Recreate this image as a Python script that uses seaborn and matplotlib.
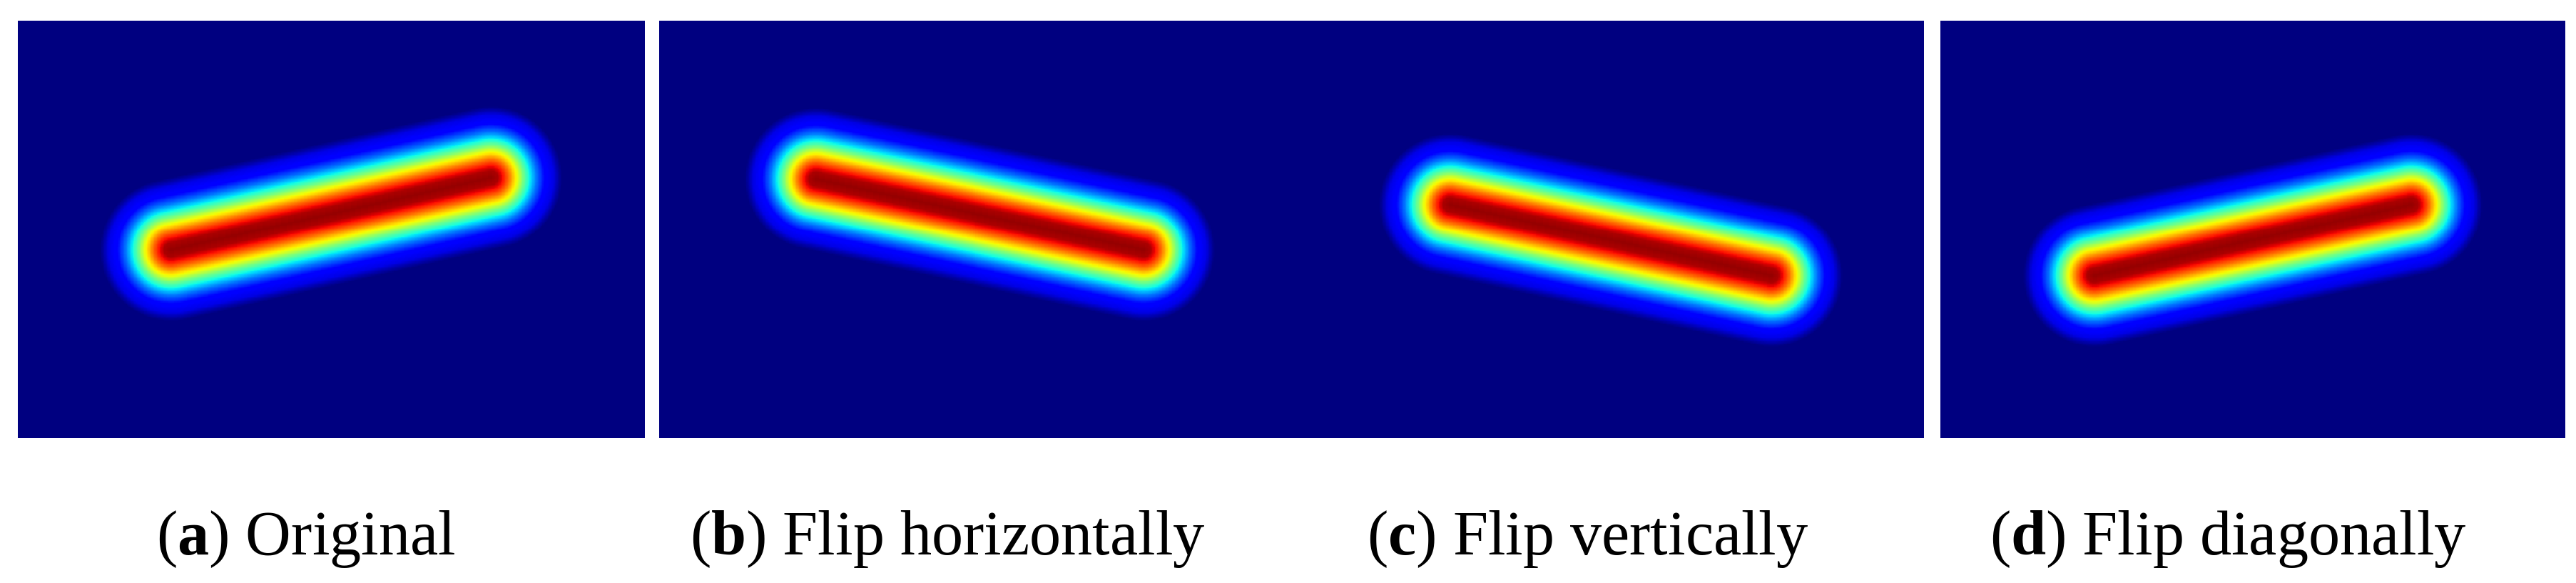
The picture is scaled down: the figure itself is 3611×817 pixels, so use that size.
import numpy as np
import matplotlib
matplotlib.use("Agg")
import matplotlib.pyplot as plt
import seaborn as sns

# Values
captions = [r"($\mathbf{a}$) Original", r"($\mathbf{b}$) Flip horizontally",
            r"($\mathbf{c}$) Flip vertically", r"($\mathbf{d}$) Flip diagonally"]
# panel size in grid cells (one cell = 2 reference pixels)
panel_cols = [439, 444, 443, 438]
panel_rows = 293
# ridge end points per panel, in grid cells (col, row)
start_a = (107, 161); end_a = (331, 110)
start_b = (110, 111); end_b = (340, 161)
start_c = (111, 129); end_c = (336, 179)
start_d = (108, 179); end_d = (330, 129)
segments = [(start_a, end_a), (start_b, end_b), (start_c, end_c), (start_d, end_d)]
profile_distance = [0, 5, 9, 13, 16.5, 19, 22.5, 27, 32, 38, 44, 47, 50]
profile_value = [0.98, 0.96, 0.88, 0.78, 0.68, 0.62, 0.50, 0.37, 0.24, 0.12, 0.09, 0.04, 0.0]

# Layout (reference pixels)
FIG_W, FIG_H = 3612, 817
panel_left = [25.5, 924, 1811, 2720]
panel_right = [904, 1811, 2697, 3596]
panel_top, panel_bottom = 29, 614
caption_center = [429, 1328, 2226, 3123]
caption_baseline = 777


def field(cols, rows, p0, p1):
    yy, xx = np.mgrid[0:rows, 0:cols] + 0.5
    p0, p1 = np.array(p0, float), np.array(p1, float)
    d = p1 - p0
    t = np.clip(((xx - p0[0]) * d[0] + (yy - p0[1]) * d[1]) / (d @ d), 0, 1)
    dist = np.hypot(xx - p0[0] - t * d[0], yy - p0[1] - t * d[1])
    return np.interp(dist, profile_distance, profile_value)


sns.set_theme(style="white")
plt.rcParams["font.family"] = ["Liberation Serif", "DejaVu Serif"]
plt.rcParams["mathtext.fontset"] = "custom"
plt.rcParams["mathtext.rm"] = "Liberation Serif"
plt.rcParams["mathtext.bf"] = "Liberation Serif:bold"

fig = plt.figure(figsize=(FIG_W / 100, FIG_H / 100), dpi=100, facecolor="white")
for i, (cols, seg) in enumerate(zip(panel_cols, segments)):
    ax = fig.add_axes([panel_left[i] / FIG_W, 1 - panel_bottom / FIG_H,
                       (panel_right[i] - panel_left[i]) / FIG_W,
                       (panel_bottom - panel_top) / FIG_H])
    sns.heatmap(field(cols, panel_rows, *seg), ax=ax, cmap="jet", vmin=0, vmax=1,
                cbar=False, xticklabels=False, yticklabels=False, rasterized=True)
    ax.set_xticks([]); ax.set_yticks([])
    fig.text(caption_center[i] / FIG_W, 1 - caption_baseline / FIG_H, captions[i],
             ha="center", va="baseline", fontsize=63.5, color="black")

fig.savefig("out.png", dpi=100, facecolor="white")
